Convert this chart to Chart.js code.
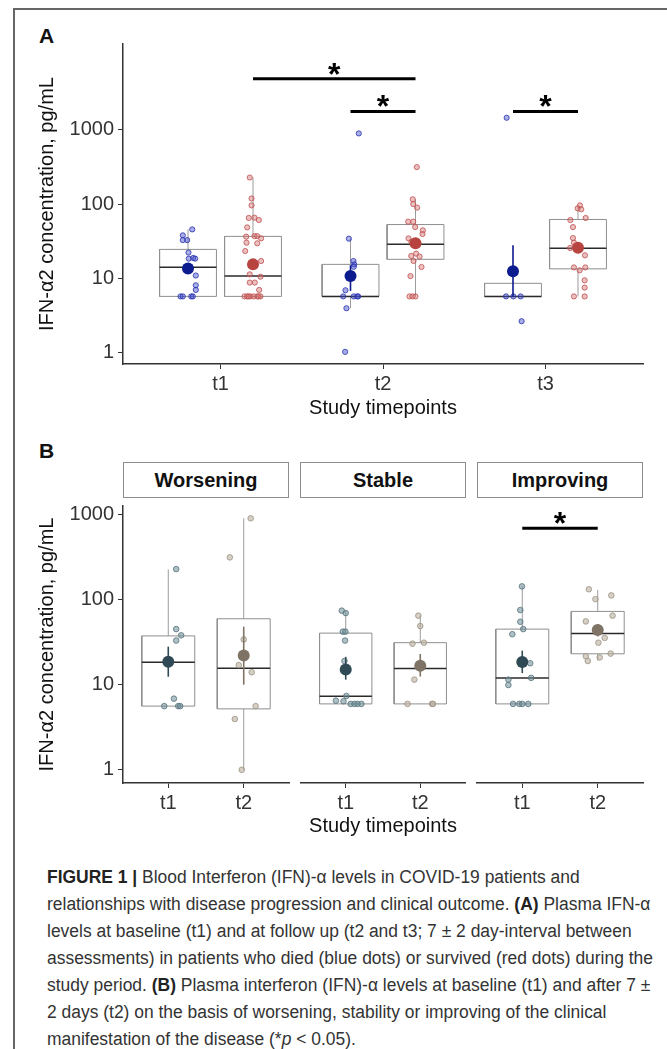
<!DOCTYPE html>
<html><head><meta charset="utf-8">
<script src="https://cdn.jsdelivr.net/npm/chart.js@4.4.1/dist/chart.umd.min.js"></script>
<style>
html,body{margin:0;padding:0;background:#fff;width:667px;height:1049px;overflow:hidden;position:relative;font-family:"Liberation Sans",Arial,sans-serif;}
canvas{position:absolute;}
.lbl{position:absolute;font-weight:bold;font-size:21px;line-height:21px;color:#111;}
.strip{position:absolute;box-sizing:border-box;border:1px solid #8c8c8c;background:#fff;font-weight:bold;font-size:20px;text-align:center;line-height:34px;color:#111;}
.frame-top{position:absolute;left:13px;top:8px;width:660px;height:2px;background:#666;}
.frame-left{position:absolute;left:13px;top:8px;width:2px;height:1050px;background:#666;}
#caption{position:absolute;left:47px;top:864px;font-size:18px;line-height:27px;color:#333;white-space:nowrap;transform-origin:0 0;}
#caption b{color:#222;}
</style></head><body>
<div class="frame-top"></div><div class="frame-left"></div>
<div class="lbl" style="left:39px;top:25px;">A</div>
<div class="lbl" style="left:39px;top:440px;">B</div>
<canvas id="cA" width="667" height="430" style="left:0;top:0;"></canvas>
<div class="strip" style="left:123px;top:462px;width:166px;height:36px;">Worsening</div>
<div class="strip" style="left:300px;top:462px;width:166px;height:36px;">Stable</div>
<div class="strip" style="left:477px;top:462px;width:166px;height:36px;">Improving</div>
<canvas id="cB1" width="295" height="350" style="left:0;top:490px;"></canvas>
<canvas id="cB2" width="176" height="350" style="left:295px;top:490px;"></canvas>
<canvas id="cB3" width="196" height="350" style="left:471px;top:490px;"></canvas>
<div id="caption">
<div><b>FIGURE 1 |</b> Blood Interferon (IFN)-α levels in COVID-19 patients and</div>
<div>relationships with disease progression and clinical outcome. <b>(A)</b> Plasma IFN-α</div>
<div>levels at baseline (t1) and at follow up (t2 and t3; 7 ± 2 day-interval between</div>
<div id="capRef">assessments) in patients who died (blue dots) or survived (red dots) during the</div>
<div>study period. <b>(B)</b> Plasma interferon (IFN)-α levels at baseline (t1) and after 7 ±</div>
<div>2 days (t2) on the basis of worsening, stability or improving of the clinical</div>
<div>manifestation of the disease (*<i>p</i> &lt; 0.05).</div>
</div>
<script>
// ---------------- DATA : panel A ----------------
const timepointsA = ['t1', 't2', 't3'];
const yTicksA = [1, 10, 100, 1000];
// died (blue) individual values and jitter offsets (category units)
const diedT1 = [45.6, 37.9, 32.7, 32.7, 22.2, 18.4, 18.8, 18.4, 10.9, 8.05, 6.97, 5.7, 5.7, 5.7, 5.7];
const diedT1Jit = [0.026, -0.032, -0.005, -0.032, 0.003, 0.005, 0.032, 0.044, 0.048, 0.048, 0.048, -0.046, -0.032, 0.02, 0.03];
const diedT2 = [895, 34.2, 17.1, 15.4, 14.3, 6.9, 5.7, 5.7, 5.7, 5.7, 3.95, 1.02];
const diedT2Jit = [0.051, -0.01, 0.018, 0.023, 0.02, -0.031, -0.045, 0.02, 0.041, 0.047, -0.025, -0.033];
const diedT3 = [1455, 5.7, 5.7, 5.7, 2.64];
const diedT3Jit = [-0.039, -0.043, 0.002, 0.047, 0.053];
// survived (red)
const survT1 = [228, 119, 96, 65, 65.6, 61, 48.5, 36.4, 37, 37, 34.5, 30.2, 29.6, 23.3, 17.1, 11.3, 10.5, 8.75, 8.75, 6.97, 5.7, 5.7, 5.7, 5.7, 5.7, 5.7, 5.7, 5.7];
const survT1Jit = [-0.02, -0.009, -0.009, -0.026, 0.009, 0.036, -0.036, -0.042, 0.009, 0.026, 0.05, -0.04, 0.026, -0.048, 0.05, -0.02, 0.046, -0.02, 0.011, 0.038, -0.052, -0.036, -0.015, 0.005, 0.026, 0.046, -0.028, 0.034];
const survT2 = [315, 116, 100, 89.6, 58, 58, 49, 44.3, 39.5, 34.5, 31, 20, 21.5, 19.6, 17.1, 14.2, 10.7, 5.7, 5.7, 5.7];
const survT2Jit = [0.008, -0.017, -0.014, 0.01, -0.045, -0.014, -0.002, 0.045, 0.043, -0.043, -0.025, -0.026, 0.004, 0.025, -0.012, 0.037, -0.031, -0.037, -0.018, 0];
const survT3 = [96, 87.5, 85, 65, 61, 49, 34.8, 30.2, 25.6, 20.4, 14.0, 12.8, 14.0, 9.4, 7.5, 5.7, 5.7];
const survT3Jit = [0.012, -0.002, 0.02, 0.047, -0.047, -0.031, -0.031, -0.025, -0.049, 0.043, -0.025, 0.01, 0.045, 0.041, 0.041, -0.025, 0.041];
// box / summary statistics per timepoint
const diedQ1 = [5.7, 5.7, 5.7];
const diedMed = [14.1, 5.7, 5.7];
const diedQ3 = [24.5, 15.4, 8.56];
const diedLo = [5.7, 3.95, 5.7];
const diedHi = [45.6, 34.2, 8.56];
const diedMean = [13.5, 10.7, 12.4];
const diedSeLo = [12.3, 6.75, 5.7];
const diedSeHi = [14.8, 15.0, 27.8];
const survQ1 = [5.7, 18, 13.4];
const survMed = [10.7, 28.7, 25.4];
const survQ3 = [36.7, 53, 62];
const survLo = [5.7, 5.7, 5.7];
const survHi = [228, 116, 96];
const survMean = [15.4, 29.6, 25.8];
const survSeLo = [13.8, 26.5, 23.2];
const survSeHi = [17.2, 33, 28.7];
// significance brackets (category index, group) and height
const sigAFromCat = [1, 2, 3];
const sigAFromGroup = ['survived', 'died', 'died'];
const sigAToCat = [2, 2, 3];
const sigAToGroup = ['survived', 'survived', 'survived'];
const sigAY = [4900, 1770, 1770];

// ---------------- DATA : panel B ----------------
const facetsB = ['Worsening', 'Stable', 'Improving'];
const timepointsB = ['t1', 't2'];
const worsT1 = [228, 45, 38, 33, 6.85, 5.6, 5.6, 5.6];
const worsT1Jit = [0.105, 0.105, 0.171, 0.105, 0.075, -0.053, 0.132, 0.158];
const worsT2 = [900, 313, 34, 17, 14, 5.6, 3.95, 1];
const worsT2Jit = [0.092, -0.184, 0, -0.066, 0.105, 0.158, -0.118, -0.026];
const stabT1 = [65, 61, 37.4, 37.4, 29.6, 17.3, 6.9, 6.1, 6.0, 5.6, 5.6, 5.6, 5.6];
const stabT1Jit = [-0.053, 0, -0.039, -0.004, -0.009, -0.017, 0.009, -0.132, -0.03, 0.066, 0.118, 0.158, 0.21];
const stabT2 = [57, 43.4, 27.3, 28, 10.6, 5.6, 5.6, 5.6];
const stabT2Jit = [-0.026, 0, -0.105, 0.049, -0.079, -0.171, 0.158, 0.171];
const imprT1 = [123, 66, 48.5, 40, 35, 16.3, 11.1, 10.6, 9.2, 5.6, 5.6, 5.6, 5.6];
const imprT1Jit = [-0.004, -0.026, -0.026, 0.013, -0.132, 0.105, 0.118, -0.184, -0.184, -0.122, -0.039, 0, 0.079];
const imprT2 = [114, 97, 88, 57, 49, 31.7, 28, 19.6, 17.3, 19, 21];
const imprT2Jit = [-0.118, 0.18, -0.03, 0.197, -0.158, 0.092, 0.009, -0.158, -0.132, 0.026, 0.171];
// box statistics per facet (Worsening, Stable, Improving)
const bT1Q1 = [5.6, 5.6, 5.6];
const bT1Med = [18.3, 6.85, 11.1];
const bT1Q3 = [37.4, 36, 40];
const bT1Lo = [5.6, 5.6, 5.6];
const bT1Hi = [226, 65, 123];
const bT1Mean = [18.6, 13.8, 16.9];
const bT1SeLo = [12.4, 10.6, 12.6];
const bT1SeHi = [28, 19.3, 22.7];
const bT2Q1 = [5.2, 5.6, 20.9];
const bT2Med = [15.6, 14.2, 35.7];
const bT2Q3 = [59.5, 28, 63.7];
const bT2Lo = [1, 5.6, 17.5];
const bT2Hi = [900, 57, 112];
const bT2Mean = [22, 15.3, 39];
const bT2SeLo = [10, 11.5, 33];
const bT2SeHi = [48, 20.8, 45.8];
// significance in panel B: facet index, y level
const sigBFacet = [2];
const sigBY = [567];

// ---------------- STYLE / HELPERS ----------------
const FONT = '"Liberation Sans", Arial, Helvetica, sans-serif';
Chart.defaults.font.family = FONT;
Chart.defaults.color = '#333';
const DODGE = 0.2, HALF_A = 0.175, HALF_B = 0.351;
const COL = {
  died: {pt: 'rgba(65,75,200,0.45)',  ptB: 'rgba(40,50,175,0.8)',  mean: '#0c1b8d'},
  surv: {pt: 'rgba(215,115,115,0.45)', ptB: 'rgba(190,80,80,0.8)', mean: '#b8443f'},
  t1:   {pt: 'rgba(110,140,150,0.55)', ptB: 'rgba(85,115,125,0.8)', mean: '#2f4a55'},
  t2:   {pt: 'rgba(185,175,160,0.6)', ptB: 'rgba(160,150,135,0.85)', mean: '#7e7365'}
};

function lineDs(data, color, w, order) {
  return {type: 'line', data, borderColor: color, borderWidth: w, pointRadius: 0, fill: false, tension: 0, order, borderCapStyle: 'butt', borderJoinStyle: 'miter'};
}
function groupDs(c, vals, jit, q1, q3, lo, hi, med, half, mean, seLo, seHi, col, ptR) {
  const ds = [
    lineDs([{x: c - half, y: q1}, {x: c + half, y: q1}, {x: c + half, y: q3}, {x: c - half, y: q3}, {x: c - half, y: q1}], '#8f8f8f', 1, 5),
    lineDs([{x: c - half, y: med}, {x: c + half, y: med}], '#2a2a2a', 1.5, 4),
    {type: 'scatter', data: vals.map((v, i) => ({x: c + jit[i], y: v})), backgroundColor: col.pt, borderColor: col.ptB, borderWidth: 1, pointRadius: ptR, order: 3},
    lineDs([{x: c, y: seLo}, {x: c, y: seHi}], col.mean, 1.6, 2),
    {type: 'scatter', data: [{x: c, y: mean}], backgroundColor: col.mean, borderColor: col.mean, borderWidth: 0, pointRadius: 6, order: 1}
  ];
  if (hi > q3) ds.push(lineDs([{x: c, y: q3}, {x: c, y: hi}], '#9c9c9c', 1, 6));
  if (lo < q1) ds.push(lineDs([{x: c, y: lo}, {x: c, y: q1}], '#9c9c9c', 1, 6));
  return ds;
}

const starPlugin = {
  id: 'stars',
  afterDatasetsDraw(chart, args, opts) {
    const {ctx} = chart; const x = chart.scales.x, y = chart.scales.y;
    (opts.items || []).forEach(it => {
      const px = (x.getPixelForValue(it.x1) + x.getPixelForValue(it.x2)) / 2;
      const py = y.getPixelForValue(it.y);
      ctx.save(); ctx.fillStyle = '#000'; ctx.font = 'bold 32px ' + FONT;
      ctx.textAlign = 'center'; ctx.textBaseline = 'alphabetic';
      ctx.fillText('*', px, py + 6);
      ctx.restore();
    });
  }
};

function yAxis(min, max, show, width) {
  return {type: 'logarithmic', display: show, min, max,
    afterBuildTicks: s => { s.ticks = yTicksA.map(v => ({value: v})); },
    ticks: {callback: v => String(v), font: {size: 20}, color: '#333', padding: 4, autoSkip: false},
    grid: {display: true, drawOnChartArea: false, drawTicks: true, tickLength: 5, color: '#333', lineWidth: 1},
    border: {display: true, color: '#333', width: 1.5},
    title: {display: true, text: 'IFN-α2 concentration, pg/mL', font: {size: 20}, color: '#111', padding: {top: 10, bottom: 0}},
    afterFit: s => { if (show) s.width = width; }};
}
function xAxis(min, max, labels, titleText, height, titlePad) {
  return {type: 'linear', min, max, offset: false, bounds: 'data',
    afterBuildTicks: s => { s.ticks = labels.map((l, i) => ({value: i + 1})); },
    ticks: {callback: v => labels[Math.round(v) - 1], font: {size: 20}, color: '#333', padding: 3, autoSkip: false, maxRotation: 0},
    grid: {display: true, offset: false, drawOnChartArea: false, drawTicks: true, tickLength: 5, color: '#333', lineWidth: 1},
    border: {display: true, color: '#333', width: 1.5},
    title: {display: !!titleText, text: titleText || '', font: {size: 20}, color: '#111', padding: {top: 0, bottom: titlePad}},
    afterFit: s => { s.height = height; }};
}
function makeChart(id, datasets, xOpts, yOpts, padding, stars) {
  return new Chart(document.getElementById(id), {
    type: 'scatter', data: {datasets},
    options: {responsive: false, animation: false, devicePixelRatio: 1, layout: {padding},
      plugins: {legend: {display: false}, tooltip: {enabled: false}, stars: {items: stars}},
      scales: {x: xOpts, y: yOpts}},
    plugins: [starPlugin]
  });
}

// ---------------- PANEL A ----------------
(function () {
  const off = {died: -DODGE, survived: DODGE};
  const cD = timepointsA.map((t, i) => i + 1 + off.died);
  const cS = timepointsA.map((t, i) => i + 1 + off.survived);
  const diedVals = [diedT1, diedT2, diedT3], diedJit = [diedT1Jit, diedT2Jit, diedT3Jit];
  const survVals = [survT1, survT2, survT3], survJit = [survT1Jit, survT2Jit, survT3Jit];
  let ds = [];
  timepointsA.forEach((t, i) => {
    ds = ds.concat(groupDs(cD[i], diedVals[i], diedJit[i], diedQ1[i], diedQ3[i], diedLo[i], diedHi[i], diedMed[i], HALF_A, diedMean[i], diedSeLo[i], diedSeHi[i], COL.died, 2.6));
    ds = ds.concat(groupDs(cS[i], survVals[i], survJit[i], survQ1[i], survQ3[i], survLo[i], survHi[i], survMed[i], HALF_A, survMean[i], survSeLo[i], survSeHi[i], COL.surv, 2.6));
  });
  const stars = [];
  sigAY.forEach((yv, i) => {
    const x1 = sigAFromCat[i] + off[sigAFromGroup[i]], x2 = sigAToCat[i] + off[sigAToGroup[i]];
    ds.push(lineDs([{x: x1, y: yv}, {x: x2, y: yv}], '#000', 3, 0));
    stars.push({x1, x2, y: yv});
  });
  makeChart('cA', ds, xAxis(0.4, 3.6, timepointsA, 'Study timepoints', 66, 10), yAxis(0.71, 14350, true, 98),
    {left: 25, top: 44, right: 24, bottom: 0}, stars);
})();

// ---------------- PANEL B ----------------
(function () {
  const t1Vals = [worsT1, stabT1, imprT1], t1Jit = [worsT1Jit, stabT1Jit, imprT1Jit];
  const t2Vals = [worsT2, stabT2, imprT2], t2Jit = [worsT2Jit, stabT2Jit, imprT2Jit];
  const ids = ['cB1', 'cB2', 'cB3'];
  const pads = [{left: 25, top: 8, right: 6, bottom: 0}, {left: 5, top: 8, right: 5, bottom: 0}, {left: 6, top: 8, right: 24, bottom: 0}];
  facetsB.forEach((f, k) => {
    let ds = [];
    ds = ds.concat(groupDs(1, t1Vals[k], t1Jit[k], bT1Q1[k], bT1Q3[k], bT1Lo[k], bT1Hi[k], bT1Med[k], HALF_B, bT1Mean[k], bT1SeLo[k], bT1SeHi[k], COL.t1, 2.8));
    ds = ds.concat(groupDs(2, t2Vals[k], t2Jit[k], bT2Q1[k], bT2Q3[k], bT2Lo[k], bT2Hi[k], bT2Med[k], HALF_B, bT2Mean[k], bT2SeLo[k], bT2SeHi[k], COL.t2, 2.8));
    const stars = [];
    sigBFacet.forEach((fi, j) => {
      if (fi === k) {
        ds.push(lineDs([{x: 1, y: sigBY[j]}, {x: 2, y: sigBY[j]}], '#000', 3, 0));
        stars.push({x1: 1, x2: 2, y: sigBY[j]});
      }
    });
    makeChart(ids[k], ds, xAxis(0.4, 2.6, timepointsB, k === 1 ? 'Study timepoints' : '', 57, 2),
      yAxis(0.71, 1256, k === 0, 98), pads[k], stars);
  });
})();

// caption width fit (line 4 of reference spans ~606 px)
(function () {
  const ref = document.getElementById('capRef');
  const r = document.createRange(); r.selectNodeContents(ref);
  const tw = r.getBoundingClientRect().width;
  if (tw > 0) document.getElementById('caption').style.transform = 'scaleX(' + (606 / tw) + ')';
})();
</script>
</body></html>
